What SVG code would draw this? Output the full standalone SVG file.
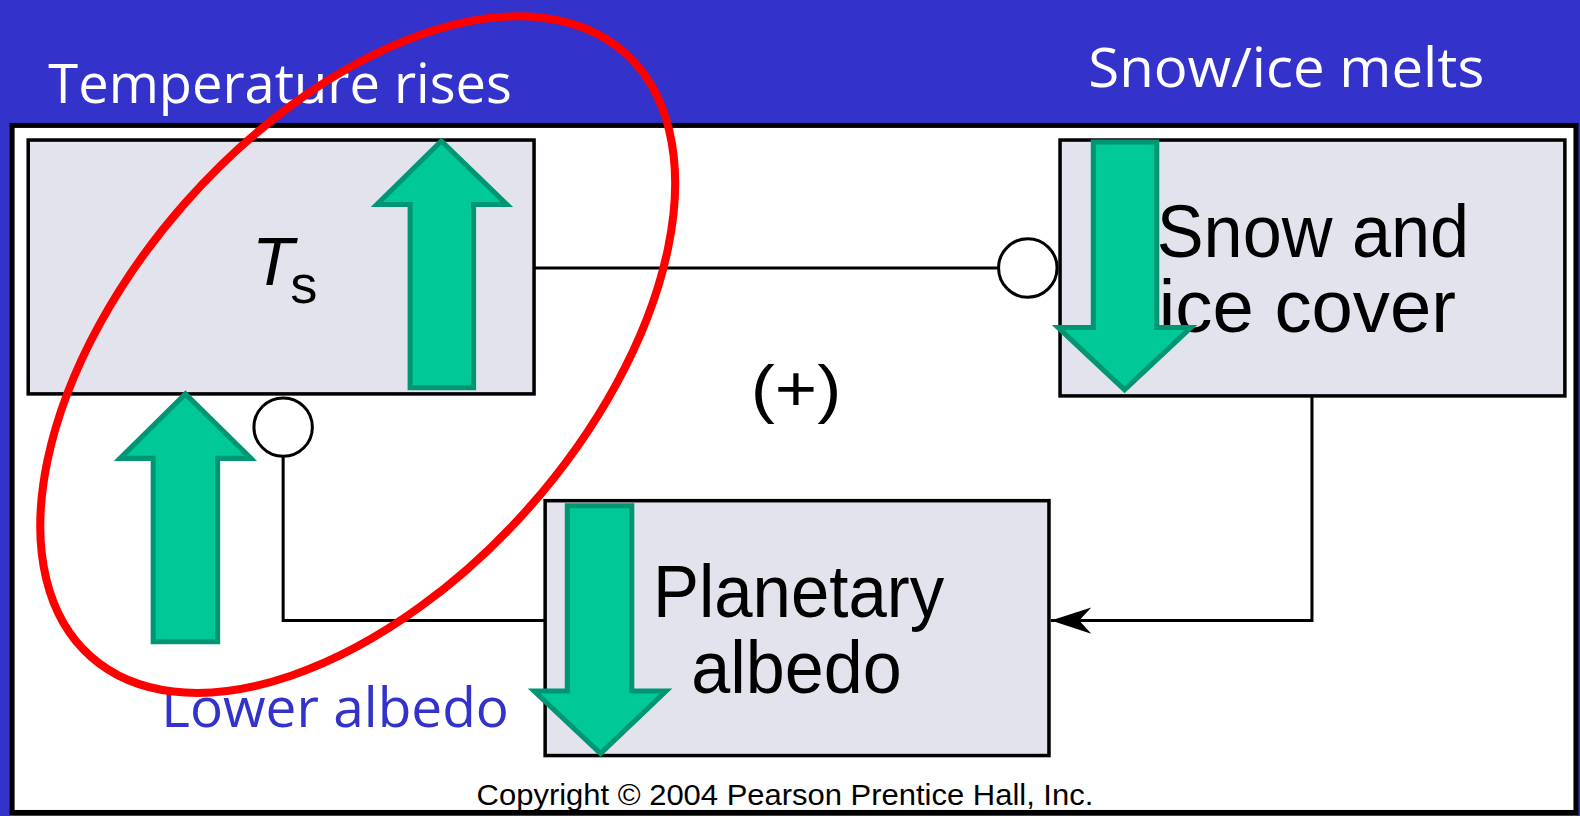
<svg xmlns="http://www.w3.org/2000/svg" width="1580" height="816" viewBox="0 0 1580 816">
<defs>
<style>
.box{fill:#E3E3EE;stroke:#000;stroke-width:3.5}
.lbl{font-family:"Liberation Sans",Arial,sans-serif;font-size:74px;fill:#000}
.cap{font-family:"Open Sans","Noto Sans",sans-serif;font-size:55px}
.conn{fill:none;stroke:#000;stroke-width:3}
.green{fill:#00C896;stroke:#009673;stroke-width:5}
</style>
<marker id="ah" markerUnits="userSpaceOnUse" markerWidth="50" markerHeight="30" refX="0" refY="0" orient="auto" overflow="visible"><path d="M0,0 L-40,-13 L-28,0 L-40,13 Z" fill="#000"/></marker>
</defs>
<rect width="1580" height="816" fill="#3333CC"/>
<g transform="scale(1.00765 1.00741)">
<rect x="12" y="124.5" width="1552" height="682" fill="#fff" stroke="#000" stroke-width="5"/>
<g id="captions">
<text class="cap" x="48" y="102" fill="#fff" textLength="460" lengthAdjust="spacingAndGlyphs">Temperature rises</text>
<text class="cap" x="1080" y="86" fill="#fff" textLength="393" lengthAdjust="spacingAndGlyphs">Snow/ice melts</text>
<text class="cap" x="160" y="722" fill="#3333CC" textLength="345" lengthAdjust="spacingAndGlyphs">Lower albedo</text>
</g>
<g id="connectors">
<line class="conn" x1="530" y1="266" x2="991" y2="266"/>
<circle cx="1020" cy="266" r="29" fill="#fff" stroke="#000" stroke-width="3"/>
<circle cx="281" cy="424" r="29" fill="#fff" stroke="#000" stroke-width="3"/>
<polyline class="conn" points="281,453 281,616 541,616"/>
<polyline class="conn" points="1302,393 1302,616 1043,616" marker-end="url(#ah)"/>
</g>
<g id="ts">
<rect class="box" x="28" y="139" width="502" height="252"/>
<text x="250" y="283" font-family="Liberation Sans,Arial,sans-serif" font-size="68" font-style="italic">T</text>
<text x="288" y="301" font-family="Liberation Sans,Arial,sans-serif" font-size="54">s</text>
</g>
<g id="snow">
<rect class="box" x="1052" y="139" width="501" height="254"/>
<text class="lbl" x="1148" y="255" textLength="310" lengthAdjust="spacingAndGlyphs">Snow and</text>
<text class="lbl" x="1150" y="330" textLength="295" lengthAdjust="spacingAndGlyphs">ice cover</text>
</g>
<g id="albedo">
<rect class="box" x="541" y="497" width="500" height="253"/>
<text class="lbl" x="648" y="612" textLength="289" lengthAdjust="spacingAndGlyphs">Planetary</text>
<text class="lbl" x="686" y="688" textLength="209" lengthAdjust="spacingAndGlyphs">albedo</text>
</g>
<text id="sign" x="745" y="408" font-family="Liberation Sans,Arial,sans-serif" font-size="64" textLength="90" lengthAdjust="spacingAndGlyphs">(+)</text>
<g id="arrows">
<polygon class="green" points="438,140 503,203 470,203 470,385 407,385 407,203 374,203"/>
<polygon class="green" points="184,391 249,455 216,455 216,637 152,637 152,455 119,455"/>
<polygon class="green" points="1085,141 1148,141 1148,325 1182,325 1116,387 1050,325 1085,325"/>
<polygon class="green" points="563,502 627,502 627,686 661,686 596,748 530,686 563,686"/>
</g>
<ellipse cx="355" cy="352" rx="400" ry="228" transform="rotate(-48.6 355 352)" fill="none" stroke="#FF0000" stroke-width="8"/>
<text x="473" y="799" font-family="Liberation Sans,Arial,sans-serif" font-size="29" textLength="612" lengthAdjust="spacingAndGlyphs">Copyright © 2004 Pearson Prentice Hall, Inc.</text>
</g>
</svg>
